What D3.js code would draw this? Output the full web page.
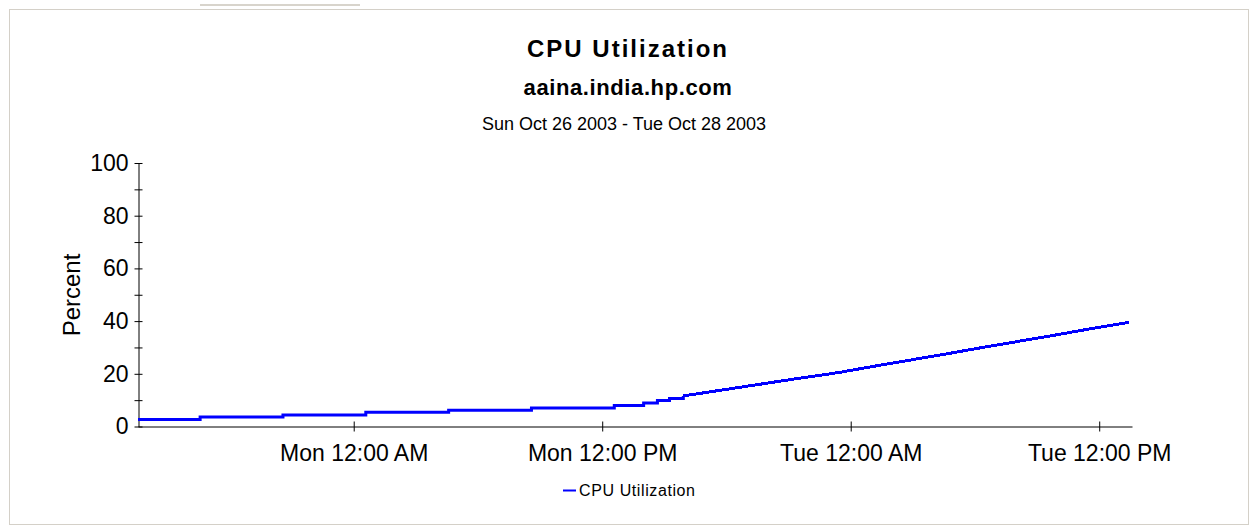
<!DOCTYPE html>
<html>
<head>
<meta charset="utf-8">
<script src="https://cdn.jsdelivr.net/npm/d3@7"></script>
<style>
  body { margin: 0; background: #fff; }
  svg { display: block; font-family: "Liberation Sans", Arial, sans-serif; }
</style>
</head>
<body>
<svg id="chart" width="1252" height="527"></svg>
<script>
// sample times and CPU %
const sampleTimes = [
  '2003-10-26 13:35', '2003-10-26 16:35', '2003-10-26 20:35', '2003-10-27 00:35',
  '2003-10-27 04:35', '2003-10-27 08:35', '2003-10-27 12:35', '2003-10-27 14:00',
  '2003-10-27 14:40', '2003-10-27 15:15', '2003-10-27 15:55', '2003-10-27 16:35',
  '2003-10-27 17:35', '2003-10-27 18:35', '2003-10-27 19:35', '2003-10-27 20:35',
  '2003-10-27 21:35', '2003-10-27 22:35', '2003-10-27 23:35', '2003-10-28 00:35',
  '2003-10-28 01:35', '2003-10-28 02:35', '2003-10-28 03:35', '2003-10-28 04:35',
  '2003-10-28 05:35', '2003-10-28 06:35', '2003-10-28 07:35', '2003-10-28 08:35',
  '2003-10-28 09:35', '2003-10-28 10:35', '2003-10-28 11:35', '2003-10-28 12:35',
  '2003-10-28 13:26'
];
const cpuValues = [
  2.7, 3.6, 4.4, 5.4,
  6.2, 7.0, 8.0, 8.9,
  9.9, 10.6, 11.6, 12.4,
  13.6, 14.8, 16.0, 17.2,
  18.4, 19.5, 20.7, 22.1,
  23.5, 24.8, 26.2, 27.5,
  28.9, 30.3, 31.6, 33.0,
  34.3, 35.7, 37.1, 38.4,
  39.5
];
const timeDomain = ['2003-10-26 13:35', '2003-10-28 13:35'];
const yTicks = [0, 10, 20, 30, 40, 50, 60, 70, 80, 90, 100];

const parse = d3.timeParse('%Y-%m-%d %H:%M');
const data = sampleTimes.map((t, i) => ({ t: parse(t), v: cpuValues[i] }));

const svg = d3.select('#chart');

// page strip and panel frame
svg.append('rect')
  .attr('x', 200).attr('y', 4)
  .attr('width', 160).attr('height', 2)
  .attr('fill', '#d8d4cc');
svg.append('rect')
  .attr('x', 9.5).attr('y', 9.5)
  .attr('width', 1239).attr('height', 515)
  .attr('fill', '#fff')
  .attr('stroke', '#d4d0c8');

// titles
svg.append('text')
  .attr('x', 628).attr('y', 57)
  .attr('text-anchor', 'middle')
  .attr('font-size', 24).attr('font-weight', 'bold')
  .attr('letter-spacing', 2)
  .text('CPU Utilization');
svg.append('text')
  .attr('x', 628).attr('y', 95)
  .attr('text-anchor', 'middle')
  .attr('font-size', 22).attr('font-weight', 'bold')
  .attr('letter-spacing', 0.6)
  .text('aaina.india.hp.com');
svg.append('text')
  .attr('x', 624).attr('y', 130)
  .attr('text-anchor', 'middle')
  .attr('font-size', 18)
  .text('Sun Oct 26 2003 - Tue Oct 28 2003');

// scales
const x = d3.scaleTime()
  .domain(timeDomain.map(parse))
  .range([138, 1132]);
const y = d3.scaleLinear()
  .domain([0, 100])
  .range([426.5, 163]);

// y axis
const yAxis = svg.append('g')
  .attr('transform', 'translate(138.5,0)')
  .call(d3.axisLeft(y)
    .tickValues(yTicks)
    .tickSize(4)
    .tickSizeOuter(0)
    .tickPadding(6)
    .tickFormat((d) => (d % 20 === 0 ? d : '')));
yAxis.selectAll('.tick line').attr('x1', 4);
yAxis.selectAll('text').attr('font-size', 23).attr('font-family', null).attr('fill', '#000');
yAxis.selectAll('path, line').attr('stroke', '#000');

// x axis
const xAxis = svg.append('g')
  .attr('transform', 'translate(0,426.5)')
  .call(d3.axisBottom(x)
    .ticks(d3.timeHour.every(12))
    .tickSize(5)
    .tickSizeOuter(0)
    .tickPadding(13)
    .tickFormat(d3.timeFormat('%a %I:%M %p')));
xAxis.selectAll('.tick line').attr('y1', -5);
xAxis.selectAll('text').attr('font-size', 23).attr('font-family', null).attr('fill', '#000');
xAxis.selectAll('path, line').attr('stroke', '#000');

// y label
svg.append('text')
  .attr('transform', 'translate(80,295) rotate(-90)')
  .attr('text-anchor', 'middle')
  .attr('font-size', 24)
  .text('Percent');

// series: slow part drawn as steps, the climb as a jagged line
const splitAt = 10;
const stepLine = d3.line()
  .x((d) => x(d.t))
  .y((d) => y(d.v))
  .curve(d3.curveStepAfter);
const climbLine = d3.line()
  .x((d) => x(d.t))
  .y((d) => y(d.v));

svg.append('path')
  .datum(data.slice(0, splitAt + 1))
  .attr('fill', 'none')
  .attr('stroke', '#0000ff')
  .attr('stroke-width', 3)
  .attr('d', stepLine);
svg.append('path')
  .datum(data.slice(splitAt))
  .attr('fill', 'none')
  .attr('stroke', '#0000ff')
  .attr('stroke-width', 3)
  .attr('shape-rendering', 'crispEdges')
  .attr('d', climbLine);

// legend
svg.append('line')
  .attr('x1', 563).attr('x2', 576)
  .attr('y1', 490.5).attr('y2', 490.5)
  .attr('stroke', '#0000ff').attr('stroke-width', 2);
svg.append('text')
  .attr('x', 579).attr('y', 496)
  .attr('font-size', 16)
  .attr('letter-spacing', 0.6)
  .text('CPU Utilization');
</script>
</body>
</html>
